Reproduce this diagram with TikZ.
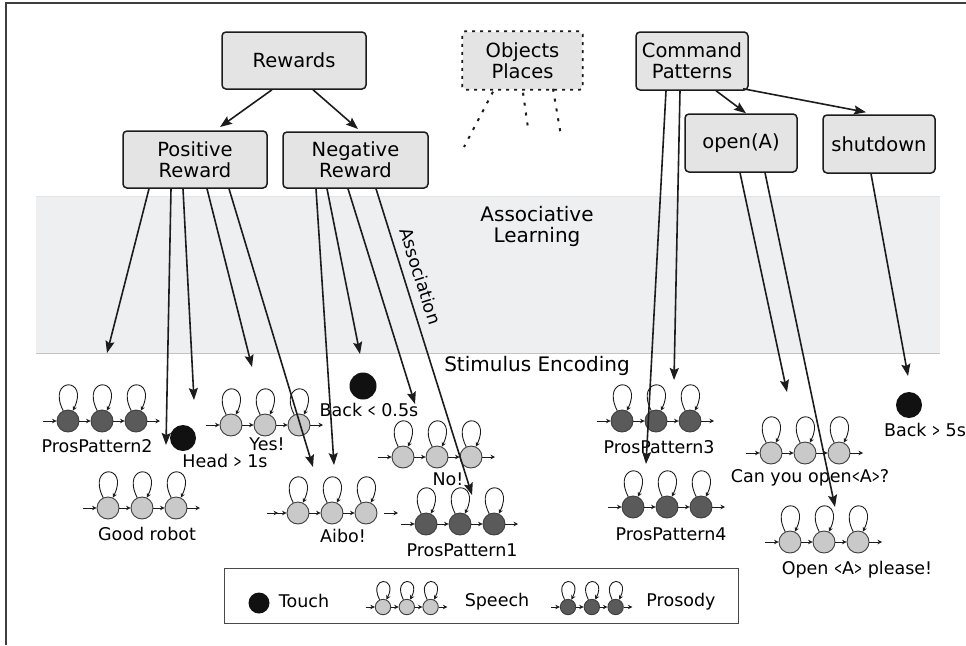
\documentclass[tikz,border=0pt]{standalone}
\usepackage{fontspec}
\setmainfont{DejaVu Sans}
\usepackage{graphicx}
\usetikzlibrary{arrows.meta,calc}
\definecolor{boxfill}{HTML}{E4E4E4}
\definecolor{bandfill}{HTML}{EEEFF1}
\definecolor{bandline}{HTML}{C2C4C6}
\definecolor{darkst}{HTML}{5A5A5A}
\definecolor{lightst}{HTML}{C9C9C9}
\definecolor{ink}{HTML}{1C1C1C}
\definecolor{touchc}{HTML}{111111}
\newcommand{\boxfnt}{\fontsize{19.5}{21}\selectfont}
\newcommand{\lblfnt}{\fontsize{17.5}{21}\selectfont}
\newcommand{\bandfnt}{\fontsize{20}{21}\selectfont}
\newcommand{\ltbr}{\scalebox{0.55}[1]{<}}
\newcommand{\gtbr}{\scalebox{0.55}[1]{>}}
\tikzset{
  stbox/.style={draw=ink, line width=1.5pt, fill=boxfill, rounded corners=4pt,
    minimum width=144pt, minimum height=57pt, align=center, font=\boxfnt, inner sep=2pt},
  cmdbox/.style={stbox, minimum width=112pt, minimum height=58pt},
  arr/.style={draw=ink, line width=1.6pt, -{Stealth[length=12pt,width=9pt,inset=2pt]}},
  dotl/.style={draw=ink, line width=2pt, dash pattern=on 3pt off 7pt},
  darkcirc/.style={circle, draw=ink!85, line width=0.9pt, fill=darkst, inner sep=0pt},
  lightcirc/.style={circle, draw=ink!85, line width=0.9pt, fill=lightst, inner sep=0pt},
  touchdot/.style={circle, fill=touchc, inner sep=0pt, minimum size=26pt},
  chainar/.style={draw=ink, line width=0.9pt, -{Stealth[length=4.5pt,width=4.5pt]}},
  lbl/.style={font=\lblfnt, inner sep=0pt, text height=0.73em, text depth=0pt},
  bandlbl/.style={font=\bandfnt, inner sep=0pt, align=center},
}
% core of an HMM chain: circles, loops, inner arrows
\newcommand{\hmmcore}[5]{%
  \node[#4, minimum size={22pt*#5}] (#1-1) at (#2,#3) {};
  \node[#4, minimum size={22pt*#5}] (#1-2) at ({#2+34*#5},#3) {};
  \node[#4, minimum size={22pt*#5}] (#1-3) at ({#2+68*#5},#3) {};
  \draw[chainar] (#1-1) -- (#1-2);
  \draw[chainar] (#1-2) -- (#1-3);
  \foreach \k in {1,2,3}
    \draw[chainar] (#1-\k.115) .. controls +({-17*#5},{-34*#5}) and +({17*#5},{-34*#5}) .. (#1-\k.65);
}
\newcommand{\hmm}[5]{%
  \hmmcore{#1}{#2}{#3}{#4}{#5}
  \coordinate (#1-in) at ({#2-25*#5},#3);
  \coordinate (#1-out) at ({#2+92*#5},#3);
  \draw[chainar] (#1-in) -- (#1-1);
  \draw[chainar] (#1-3) -- (#1-out);
}
\begin{document}
\begin{tikzpicture}[x=1pt,y=-1pt]
\useasboundingbox (0,0) rectangle (966,645);
% frame
\draw[ink!85, line width=1.3pt] (6,645) -- (6,3) -- (966,3);
% band
\fill[bandfill] (36,196) rectangle (940,353);
\draw[bandline!45, line width=0.8pt] (36,196) -- (940,196);
\draw[bandline, line width=1pt] (36,353) -- (940,353);
\node[bandlbl] (assoc) at (537,226) {Associative\\Learning};
\node[bandlbl, text height=0.73em, text depth=0pt] (stim) at (537,368) {Stimulus Encoding};

% boxes
\node[stbox] (rew) at (294,60.5) {Rewards};
\node[stbox] (pos) at (195,159.5) {Positive\\Reward};
\node[stbox, minimum width=145pt, minimum height=56pt] (neg) at (355.5,160) {Negative\\Reward};
\node[stbox, draw=none, minimum width=119pt, rounded corners=3pt] (obj) at (522.5,60.5) {Objects\\Places};
\draw[ink, line width=1.8pt, dash pattern=on 3pt off 5pt, rounded corners=3pt] (obj.south west) rectangle (obj.north east);
\node[cmdbox] (cmd) at (692,61) {Command\\Patterns};
\node[cmdbox] (open) at (741,143) {open(A)};
\node[cmdbox] (shut) at (879,144) {shutdown};

% chains
\hmm{pp2}{68}{421}{darkcirc}{1}
\hmm{good}{108}{508}{lightcirc}{1}
\hmm{yes}{231}{425}{lightcirc}{1}
\hmm{no}{403}{457}{lightcirc}{1}
\hmm{pp1}{426}{524}{darkcirc}{1}
\hmm{pp3}{622}{421}{darkcirc}{1}
\hmm{pp4}{633}{507}{darkcirc}{1}
\hmm{can}{771}{453}{lightcirc}{1}
\hmm{opn}{790}{542}{lightcirc}{1}
\hmmcore{aibo}{298}{513}{lightcirc}{1}
\coordinate (aibo-in) at (267,513);
\coordinate (aibo-out) at (398,513);
\draw[chainar, -{Stealth[length=4.5pt,width=4.5pt,sep=4pt]Stealth[length=4.5pt,width=4.5pt]}] (aibo-in) -- (aibo-1);
\draw[chainar, shorten <=7pt] (aibo-3) -- (aibo-out);

% touch dots
\node[touchdot] (head) at (183,438) {};
\node[touchdot, minimum size=27pt] (back1) at (363,386) {};
\node[touchdot] (back2) at (909,405) {};

% labels
\node[lbl] (lpp2) at (97,449) {ProsPattern2};
\node[lbl] (lgood) at (147,537) {Good robot};
\node[lbl] (lhead) at (225,464) {Head \gtbr{} 1s};
\node[lbl] (lyes) at (267,447) {Yes!};
\node[lbl] (lback1) at (369,413) {Back \ltbr{} 0.5s};
\node[lbl] (laibo) at (343,539) {Aibo!};
\node[lbl] (lno) at (448,482) {No!};
\node[lbl] (lpp1) at (462,553) {ProsPattern1};
\node[lbl] (lpp3) at (659,450) {ProsPattern3};
\node[lbl] (lpp4) at (671,537) {ProsPattern4};
\node[lbl] (lcan) at (810,479) {Can you open\ltbr A\gtbr?};
\node[lbl] (lopen) at (857,571) {Open \ltbr A\gtbr{} please!};
\node[lbl] (lback2) at (925,433) {Back \gtbr{} 5s};

% arrow tips (free ends)
\coordinate (tpos) at (220,127);
\coordinate (tneg) at (358,129);
\coordinate (p1) at (107,353);
\coordinate (p2) at (166,445);
\coordinate (p3) at (194,400);
\coordinate (p4) at (252,367);
\coordinate (p5) at (313,467);
\coordinate (n1) at (334,465);
\coordinate (n2) at (360,354);
\coordinate (n3) at (415,404);
\coordinate (n4) at (472,495);
\coordinate (c1) at (646,464);
\coordinate (c2) at (674,380);
\coordinate (o1) at (787,392);
\coordinate (o2) at (835,507);
\coordinate (s1) at (908,376);
\coordinate (od1) at (464,147);
\coordinate (od2) at (528,128);
\coordinate (od3) at (561,136);

% connectors
\draw[arr] ([xshift=-22pt]rew.south) -- (tpos);
\draw[arr] ([xshift=19pt]rew.south) -- (tneg);
\draw[arr] ([xshift=24pt]cmd.south) -- ([xshift=5pt]open.north);
\draw[arr] ([xshift=51pt,yshift=2pt]cmd.south) -- ([xshift=-13pt,yshift=2pt]shut.north);
\draw[arr] ([xshift=-26pt]cmd.south) -- (c1);
\draw[arr] ([xshift=-12pt]cmd.south) -- (c2);
\draw[arr] ([xshift=-1pt]open.south) -- (o1);
\draw[arr] ([xshift=24pt]open.south) -- (o2);
\draw[arr] ([xshift=-8pt]shut.south) -- (s1);
\draw[arr] ([xshift=-46pt]pos.south) -- (p1);
\draw[arr] ([xshift=-24pt]pos.south) -- (p2);
\draw[arr] ([xshift=-12pt]pos.south) -- (p3);
\draw[arr] ([xshift=12pt]pos.south) -- (p4);
\draw[arr] ([xshift=34pt]pos.south) -- (p5);
\draw[arr] ([xshift=-39.5pt]neg.south) -- (n1);
\draw[arr] ([xshift=-28.5pt]neg.south) -- (n2);
\draw[arr] ([xshift=-7.5pt]neg.south) -- (n3);
\draw[arr] ([xshift=20.5pt]neg.south) -- (n4);
\node[lbl, rotate=-72.6] (assn) at (418,277) {Association};
\draw[dotl] ([xshift=-29.5pt,yshift=-2pt]obj.south) -- (od1);
\draw[dotl] ([xshift=0.5pt,yshift=-3pt]obj.south) -- (od2);
\draw[dotl] ([xshift=30.5pt,yshift=1pt]obj.south) -- (od3);

% legend
\node[draw=ink!80, line width=1pt, minimum width=514pt, minimum height=55pt, inner sep=0pt] (legend) at (481,595.5) {};
\node[touchdot, minimum size=21pt] (ltouch) at (259,603) {};
\node[lbl] (ltouchl) at (304,604) {Touch};
\hmm{lsp}{383}{607}{lightcirc}{0.7}
\node[lbl] (lspl) at (497,603) {Speech};
\hmm{lpr}{568}{607}{darkcirc}{0.7}
\node[lbl] (lprl) at (681,603) {Prosody};
\end{tikzpicture}
\end{document}
